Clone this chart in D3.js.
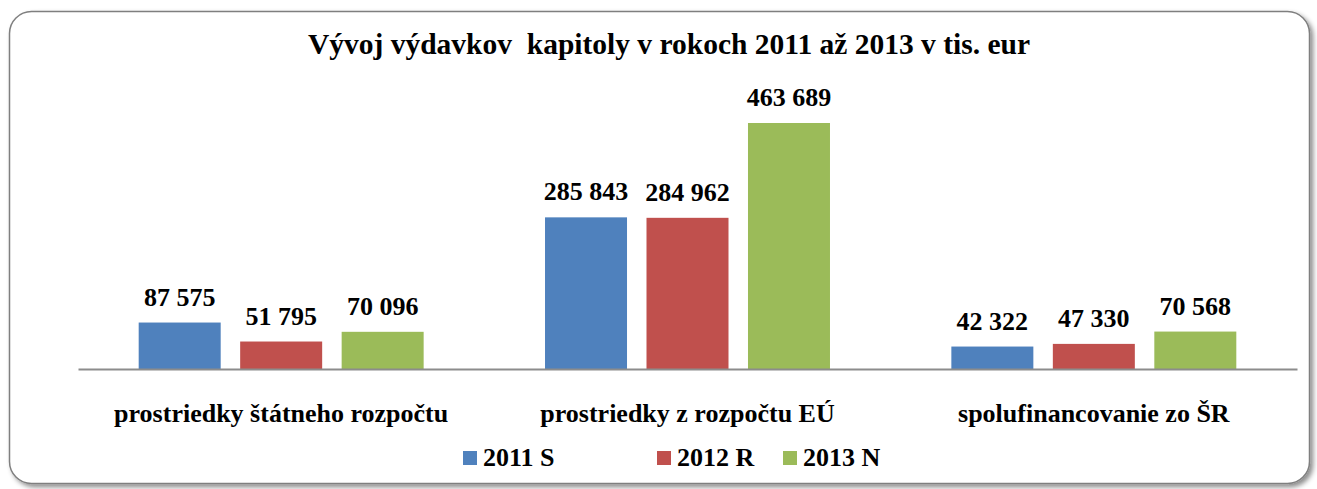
<!DOCTYPE html>
<html>
<head>
<meta charset="utf-8">
<script src="https://cdn.jsdelivr.net/npm/d3@7"></script>
<style>
 body { margin: 0; background: #fff; }
 svg text { font-family: "Liberation Serif", "Times New Roman", serif; font-weight: bold; fill: #000; }
</style>
</head>
<body>
<svg width="1317" height="489"></svg>
<script>
// Chart data.

var categories = ['prostriedky štátneho rozpočtu', 'prostriedky z rozpočtu EÚ', 'spolufinancovanie zo ŠR'];
var seriesNames = ['2011 S', '2012 R', '2013 N'];
var values2011 = [87575, 285843, 42322];
var values2012 = [51795, 284962, 47330];
var values2013 = [70096, 463689, 70568];
var colors = ['#4f81bd', '#c0504d', '#9bbb59'];
var title = 'Vývoj výdavkov  kapitoly v rokoch 2011 až 2013 v tis. eur';

var serif = '"Liberation Serif", "Times New Roman", serif';
var svg = d3.select('svg');

// Frame with shadow.

var defs = svg.append('defs');
var filter = defs.append('filter').attr('id', 'shadow')
 .attr('x', '-5%').attr('y', '-5%').attr('width', '110%').attr('height', '115%');
filter.append('feDropShadow')
 .attr('dx', 3).attr('dy', 3).attr('stdDeviation', 2.5)
 .attr('flood-color', '#000').attr('flood-opacity', 0.45);

svg.append('rect')
 .attr('x', 9.5).attr('y', 11.5)
 .attr('width', 1300).attr('height', 472)
 .attr('rx', 22).attr('ry', 22)
 .attr('fill', '#fff')
 .attr('stroke', '#7f7f7f')
 .attr('stroke-width', 1.5)
 .attr('filter', 'url(#shadow)');

// Scales.

var x0 = d3.scaleBand().domain(categories).range([78, 1297]);
var x1 = d3.scaleBand().domain(seriesNames).range([0, x0.bandwidth()])
 .paddingInner(0.192).paddingOuter(0.598);
var y = d3.scaleLinear().domain([0, 463689]).range([369, 123]);
var z = d3.scaleOrdinal().domain(seriesNames).range(colors);

var rows = categories.map(function(c, i) {
 return { category: c, values: [values2011[i], values2012[i], values2013[i]] };
});

// Title.

svg.append('text')
 .attr('x', 669).attr('y', 54)
 .attr('text-anchor', 'middle')
 .attr('font-family', serif)
 .attr('font-size', 30)
 .attr('textLength', 722)
 .attr('lengthAdjust', 'spacingAndGlyphs')
 .style('white-space', 'pre')
 .text(title);

// Bars and value labels.

var groups = svg.append('g').selectAll('g')
 .data(rows)
 .enter().append('g')
 .attr('transform', function(d) { return 'translate(' + x0(d.category) + ',0)'; });

var cells = groups.selectAll('g')
 .data(function(d) { return d.values.map(function(v, i) { return { key: seriesNames[i], value: v }; }); })
 .enter().append('g');

cells.append('rect')
 .attr('x', function(d) { return x1(d.key); })
 .attr('y', function(d) { return y(d.value); })
 .attr('width', x1.bandwidth())
 .attr('height', function(d) { return y(0) - y(d.value); })
 .attr('fill', function(d) { return z(d.key); });

var fmt = function(v) { return d3.format(',')(v).replace(/,/g, ' '); };

cells.append('text')
 .attr('x', function(d) { return x1(d.key) + x1.bandwidth() / 2; })
 .attr('y', function(d) { return y(d.value) - 17; })
 .attr('text-anchor', 'middle')
 .attr('font-family', serif)
 .attr('font-size', 26)
 .text(function(d) { return fmt(d.value); });

// Axis.

var axis = svg.append('g')
 .attr('transform', 'translate(0,' + y(0) + ')')
 .call(d3.axisBottom(x0).tickSize(0).tickPadding(0));
axis.select('.domain').attr('stroke', '#8c8c8c').attr('stroke-width', 2);
axis.selectAll('.tick text')
 .attr('dy', 0)
 .attr('y', 53)
 .attr('font-size', 26)
 .attr('font-family', serif)
 .attr('font-weight', 'bold')
 .attr('fill', '#000');

// Legend.

var legendX = [463, 657, 783];
var legend = svg.append('g').selectAll('g')
 .data(seriesNames)
 .enter().append('g')
 .attr('transform', function(d, i) { return 'translate(' + legendX[i] + ',451)'; });

legend.append('rect')
 .attr('width', 14).attr('height', 14)
 .attr('fill', z);

legend.append('text')
 .attr('x', 20).attr('y', 15)
 .attr('font-family', serif)
 .attr('font-size', 26)
 .text(function(d) { return d; });
</script>
</body>
</html>
